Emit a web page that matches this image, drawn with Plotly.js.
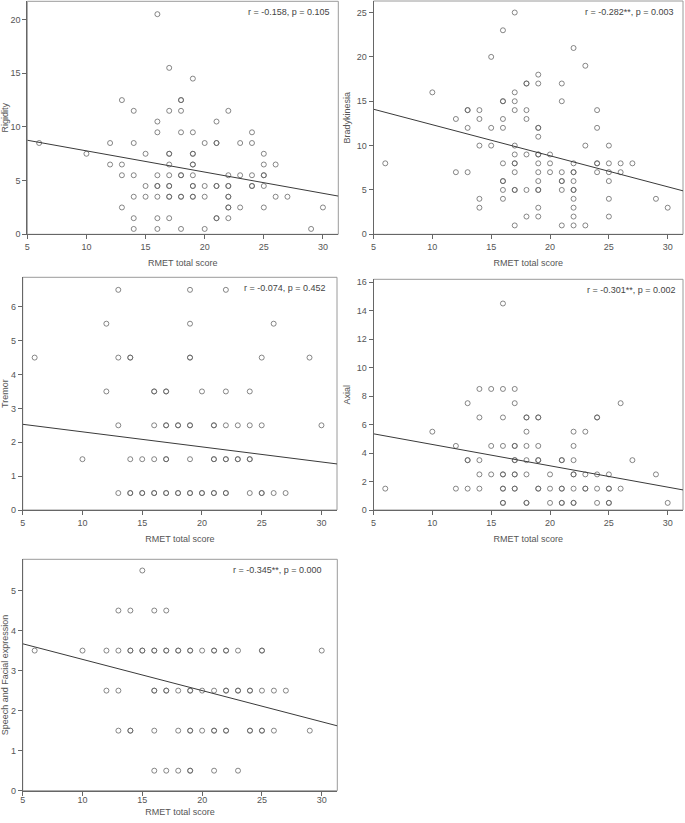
<!DOCTYPE html>
<html>
<head>
<meta charset="utf-8">
<script src="https://cdn.plot.ly/plotly-3.0.1.min.js"></script>
<style>
html,body{margin:0;padding:0;background:#fff;}
#chart{width:685px;height:823px;}
</style>
</head>
<body>
<div id="chart"></div>
<script>
// ---- Data ----
const xTitle = "RMET total score";

const rigidityX = [16, 17, 19, 13,18,18, 14,17,18,22, 16,21, 16,18,19,24, 6,12,14,20,21,21,23,24, 10,15,17,17,19,19,25, 12,13,17,19,19,25,26, 13,14,16,17,18,18,19,22,23,24,25,25, 15,16,16,17,17,19,19,20,21,21,22,22,24,24,25, 14,15,16,17,17,18,18,19,19,20,22,22,26,27, 13,22,22,23,25,30, 14,16,17,21,21,22, 14,16,18,20,29];
const rigidityY = [20.5, 15.5, 14.5, 12.5,12.5,12.5, 11.5,11.5,11.5,11.5, 10.5,10.5, 9.5,9.5,9.5,9.5, 8.5,8.5,8.5,8.5,8.5,8.5,8.5,8.5, 7.5,7.5,7.5,7.5,7.5,7.5,7.5, 6.5,6.5,6.5,6.5,6.5,6.5,6.5, 5.5,5.5,5.5,5.5,5.5,5.5,5.5,5.5,5.5,5.5,5.5,5.5, 4.5,4.5,4.5,4.5,4.5,4.5,4.5,4.5,4.5,4.5,4.5,4.5,4.5,4.5,4.5, 3.5,3.5,3.5,3.5,3.5,3.5,3.5,3.5,3.5,3.5,3.5,3.5,3.5,3.5, 2.5,2.5,2.5,2.5,2.5,2.5, 1.5,1.5,1.5,1.5,1.5,1.5, 0.5,0.5,0.5,0.5,0.5];

const bradyX = [17, 16, 22, 15, 23, 19, 18,18,19,21, 10,17, 16,16,17,21, 13,13,14,17,18,24, 12,14,16,18, 13,15,16,19,19,24, 19, 14,15,17,23,25, 17,18,19,19,20, 6,16,17,17,19,20,22,24,24,25,26,27, 12,13,17,19,20,21,22,22,24,25,26, 16,16,19,21,21,22,25, 16,17,17,18,19,19,21,22,22, 14,16,22,25,29, 14,19,22,30, 18,19,22,25, 17,21,22,23];
const bradyY = [25, 23, 21, 20, 19, 18, 17,17,17,17, 16,16, 15,15,15,15, 14,14,14,14,14,14, 13,13,13,13, 12,12,12,12,12,12, 11, 10,10,10,10,10, 9,9,9,9,9, 8,8,8,8,8,8,8,8,8,8,8,8, 7,7,7,7,7,7,7,7,7,7,7, 6,6,6,6,6,6,6, 5,5,5,5,5,5,5,5,5, 4,4,4,4,4, 3,3,3,3, 2,2,2,2, 1,1,1,1];

const tremorX = [13,19,22, 12,19,26, 6,13,14,14,19,19,25,29, 12,16,16,17,17,20,22,24, 13,16,17,17,18,18,19,19,21,21,22,23,24,25,30, 10,14,15,16,17,17,19,21,21,22,22,23,23,24,24, 13,14,14,15,15,16,16,17,17,18,18,19,19,20,20,21,21,22,22,24,25,25,26,27];
const tremorY = [6.5,6.5,6.5, 5.5,5.5,5.5, 4.5,4.5,4.5,4.5,4.5,4.5,4.5,4.5, 3.5,3.5,3.5,3.5,3.5,3.5,3.5,3.5, 2.5,2.5,2.5,2.5,2.5,2.5,2.5,2.5,2.5,2.5,2.5,2.5,2.5,2.5,2.5, 1.5,1.5,1.5,1.5,1.5,1.5,1.5,1.5,1.5,1.5,1.5,1.5,1.5,1.5,1.5, 0.5,0.5,0.5,0.5,0.5,0.5,0.5,0.5,0.5,0.5,0.5,0.5,0.5,0.5,0.5,0.5,0.5,0.5,0.5,0.5,0.5,0.5,0.5,0.5];

const axialX = [16, 14,15,16,17, 13,17,26, 14,16,18,18,19,19,24,24, 10,18,22,23, 12,15,16,17,17,18,19,22, 13,13,14,17,17,18,19,19,21,21,22,27, 14,15,16,16,17,17,18,20,22,22,23,24,25,29, 6,12,13,14,16,16,17,17,19,19,20,21,21,22,23,23,24,25,25,26, 16,16,18,18,20,21,21,22,22,24,25,25,30];
const axialY = [14.5, 8.5,8.5,8.5,8.5, 7.5,7.5,7.5, 6.5,6.5,6.5,6.5,6.5,6.5,6.5,6.5, 5.5,5.5,5.5,5.5, 4.5,4.5,4.5,4.5,4.5,4.5,4.5,4.5, 3.5,3.5,3.5,3.5,3.5,3.5,3.5,3.5,3.5,3.5,3.5,3.5, 2.5,2.5,2.5,2.5,2.5,2.5,2.5,2.5,2.5,2.5,2.5,2.5,2.5,2.5, 1.5,1.5,1.5,1.5,1.5,1.5,1.5,1.5,1.5,1.5,1.5,1.5,1.5,1.5,1.5,1.5,1.5,1.5,1.5,1.5, 0.5,0.5,0.5,0.5,0.5,0.5,0.5,0.5,0.5,0.5,0.5,0.5,0.5];

const speechX = [15, 13,14,16,17, 6,10,12,13,14,14,15,15,16,16,17,17,18,18,19,19,20,21,21,22,22,23,25,25,30, 12,13,16,16,17,17,18,19,19,20,21,22,22,23,23,24,24,25,26,27, 13,14,14,16,18,19,19,20,21,21,22,22,24,24,25,25,26,29, 16,17,18,19,19,21,23];
const speechY = [5.5, 4.5,4.5,4.5,4.5, 3.5,3.5,3.5,3.5,3.5,3.5,3.5,3.5,3.5,3.5,3.5,3.5,3.5,3.5,3.5,3.5,3.5,3.5,3.5,3.5,3.5,3.5,3.5,3.5,3.5, 2.5,2.5,2.5,2.5,2.5,2.5,2.5,2.5,2.5,2.5,2.5,2.5,2.5,2.5,2.5,2.5,2.5,2.5,2.5,2.5, 1.5,1.5,1.5,1.5,1.5,1.5,1.5,1.5,1.5,1.5,1.5,1.5,1.5,1.5,1.5,1.5,1.5,1.5, 0.5,0.5,0.5,0.5,0.5,0.5,0.5];

// Fit lines (end points)
const fitX = [5, 31.3];
const rigidityFit = [8.76, 3.56];
const bradyFit = [14.1, 4.9];
const tremorFit = [2.53, 1.36];
const axialFit = [5.35, 1.41];
const speechFit = [3.67, 1.62];

const yTitles = ["Rigidity", "Bradykinesia", "Tremor", "Axial", "Speech and Facial expression"];
const statLabels = ["r = -0.158, p = 0.105", "r = -0.282**, p = 0.003", "r = -0.074, p = 0.452", "r = -0.301**, p = 0.002", "r = -0.345**, p = 0.000"];
const yRanges = [[0, 21.7], [0, 26.3], [0, 6.87], [0, 16.2], [0, 5.78]];
const yDticks = [5, 5, 1, 2, 1];

// ---- Build ----
const panels = [
  {x: rigidityX, y: rigidityY, fit: rigidityFit},
  {x: bradyX, y: bradyY, fit: bradyFit},
  {x: tremorX, y: tremorY, fit: tremorFit},
  {x: axialX, y: axialY, fit: axialFit},
  {x: speechX, y: speechY, fit: speechFit}
];

const W = 685, H = 823;
// plot-area boxes in pixels [left, top, right, bottom]
const boxes = [
  [27.3, 1.3, 338.3, 234.3],
  [373.5, 1.0, 683.0, 234.3],
  [22.7, 277.3, 337.0, 510.0],
  [373.5, 279.3, 683.0, 510.0],
  [22.7, 559.3, 337.3, 790.7]
];
const annShift = [-6, -7, -9, -5, -13];
const xLabelStandoff = [null, null, null, null, -4];
const xTitleStandoff = [8, 8, 8, 8, 5];

const FONT = "Liberation Sans, Arial, sans-serif";
const TXT = "#555";
const traces = [];
const layout = {
  width: W, height: H,
  margin: {l: 0, r: 0, t: 0, b: 0},
  paper_bgcolor: "#fff", plot_bgcolor: "#fff",
  showlegend: false,
  font: {family: FONT, size: 9, color: TXT},
  shapes: [], annotations: []
};

panels.forEach((p, i) => {
  const n = i + 1;
  const xa = "x" + (n === 1 ? "" : n), ya = "y" + (n === 1 ? "" : n);
  traces.push({
    type: "scatter", mode: "markers", x: p.x, y: p.y, xaxis: xa, yaxis: ya,
    marker: {symbol: "circle-open", size: 5, color: "rgba(95,95,95,0.75)", line: {width: 1}},
    hoverinfo: "x+y"
  });
  traces.push({
    type: "scatter", mode: "lines", x: fitX, y: p.fit, xaxis: xa, yaxis: ya,
    line: {color: "#3a3a3a", width: 1}, hoverinfo: "skip"
  });
  const b = boxes[i];
  const axKey = "xaxis" + (n === 1 ? "" : n), ayKey = "yaxis" + (n === 1 ? "" : n);
  layout[axKey] = {
    domain: [b[0] / W, b[2] / W], anchor: ya, range: [5, 31.3],
    tick0: 5, dtick: 5, ticks: "outside", ticklen: 4, tickcolor: "#666", tickwidth: 1,
    showgrid: false, zeroline: false, showline: true, linecolor: "#666", linewidth: 1,
    tickfont: {family: FONT, size: 9, color: TXT},
    title: {text: xTitle, font: {family: FONT, size: 9, color: TXT}, standoff: xTitleStandoff[i]}
  };
  if (xLabelStandoff[i] !== null) layout[axKey].ticklabelstandoff = xLabelStandoff[i];
  layout[ayKey] = {
    domain: [1 - b[3] / H, 1 - b[1] / H], anchor: xa, range: yRanges[i],
    tick0: 0, dtick: yDticks[i], ticks: "outside", ticklen: 4, tickcolor: "#666", tickwidth: 1,
    showgrid: false, zeroline: false, showline: true, linecolor: "#666", linewidth: 1,
    tickfont: {family: FONT, size: 9, color: TXT},
    title: {text: yTitles[i], font: {family: FONT, size: 9, color: TXT}, standoff: 4}
  };
  layout.shapes.push({
    type: "rect", xref: xa + " domain", yref: ya + " domain",
    x0: 0, x1: 1, y0: 0, y1: 1, line: {color: "#9a9a9a", width: 1}, layer: "below"
  });
  layout.annotations.push({
    text: statLabels[i], xref: xa + " domain", yref: ya + " domain",
    x: 1, y: 1, xanchor: "right", yanchor: "middle", xshift: annShift[i], yshift: -11,
    showarrow: false, font: {family: FONT, size: 9, color: "#444"}
  });
});

Plotly.newPlot("chart", traces, layout, {displayModeBar: false, staticPlot: true});
</script>
</body>
</html>
